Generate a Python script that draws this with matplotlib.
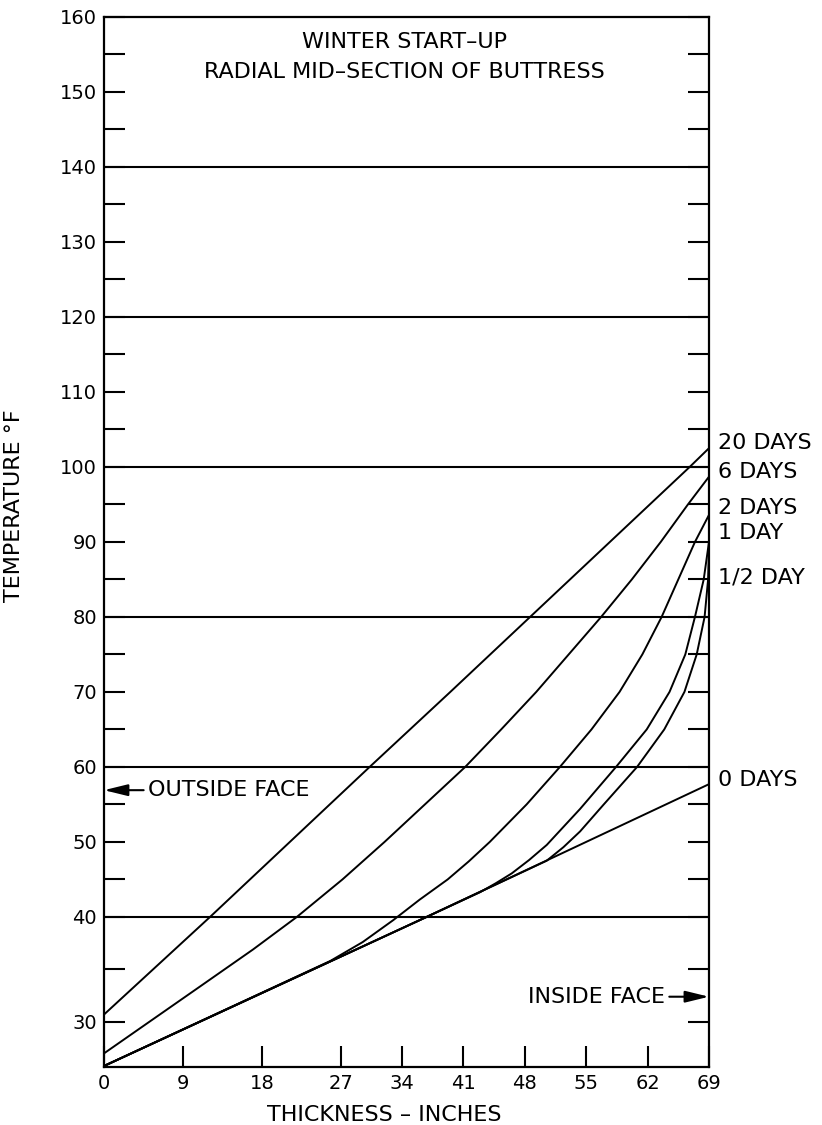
import matplotlib
matplotlib.use("Agg")
import matplotlib.pyplot as plt
import numpy as np
from matplotlib.ticker import FixedLocator

# ------------------------------------------------------------------ data
# thickness (in) / temperature (F)
x_0d = [0, 36.8, 69]
t_0d = [25.8, 40.0, 57.7]

x_half = [0, 36.8, 50.5, 52.4, 54.3, 57.0, 60.8, 63.9, 66.2, 67.6, 68.5, 68.9, 69]
t_half = [25.8, 40.0, 47.5, 49.3, 51.4, 55.0, 60.0, 65.0, 70.0, 75.0, 80.0, 85.0, 89.0]

x_1d = [0, 36.8, 42.9, 44.7, 46.5, 48.5, 50.5, 52.4, 54.3, 58.4, 61.9, 64.5, 66.3, 67.4, 68.4, 69]
t_1d = [25.8, 40.0, 43.3, 44.5, 45.8, 47.6, 49.6, 52.0, 54.4, 60.0, 65.0, 70.0, 75.0, 80.0, 85.0, 90.0]

x_2d = [0, 25.8, 29.5, 33.0, 36.0, 39.2, 41.6, 44.0, 48.2, 52.0, 55.6, 58.8, 61.4, 63.6, 65.5, 67.4, 69]
t_2d = [25.8, 35.8, 37.6, 39.7, 42.3, 45.0, 47.4, 50.0, 55.0, 60.0, 65.0, 70.0, 75.0, 80.0, 85.0, 90.0, 93.6]

x_6d = [0, 11.0, 17.0, 22.0, 27.2, 32.0, 36.6, 41.2, 45.3, 49.3, 53.0, 56.7, 60.2, 63.5, 66.6, 69]
t_6d = [27.0, 33.4, 36.9, 40.0, 45.0, 50.0, 55.0, 60.0, 65.0, 70.0, 75.0, 80.0, 85.0, 90.0, 95.0, 98.7]

x_20d = [0, 12.1, 21.2, 30.3, 39.5, 48.6, 57.7, 66.8, 69]
t_20d = [30.7, 40.0, 50.0, 60.0, 70.0, 80.0, 90.0, 100.0, 102.5]

curves = [(x_0d, t_0d), (x_half, t_half), (x_1d, t_1d),
          (x_2d, t_2d), (x_6d, t_6d), (x_20d, t_20d)]

curve_labels = ["0 DAYS", "1/2 DAY", "1 DAY", "2 DAYS", "6 DAYS", "20 DAYS"]
label_y = [58.3, 85.3, 91.2, 94.5, 99.3, 103.2]

x_ticks = [0, 9, 18, 27, 34, 41, 48, 55, 62, 69]
y_ticks = [30, 40, 50, 60, 70, 80, 90, 100, 110, 120, 130, 140, 150, 160]
y_minor = [35, 45, 55, 65, 75, 85, 95, 105, 115, 125, 135, 145, 155]
grid_y = [40, 60, 80, 100, 120, 140]

FS_NUM = 14
FS_TXT = 16


# scale is stretched below 40 F on the original sheet
def fwd(y):
    y = np.asarray(y, dtype=float)
    return np.where(y < 40, 40 + (y - 40) * 1.4, y)


def inv(y):
    y = np.asarray(y, dtype=float)
    return np.where(y < 40, 40 + (y - 40) / 1.4, y)


fig = plt.figure(figsize=(8.22, 11.25), dpi=100)
ax = fig.add_axes([0.1265, 0.0516, 0.736, 0.9333])
ax.set_yscale("function", functions=(fwd, inv))
ax.set_xlim(0, 69)
ax.set_ylim(25.71, 160)

for g in grid_y:
    ax.axhline(g, color="black", lw=1.5, zorder=1)

for xs, ts in curves:
    ax.plot(xs, ts, color="black", lw=1.4, solid_joinstyle="round", zorder=2)

for s in ax.spines.values():
    s.set_linewidth(1.6)

ax.xaxis.set_major_locator(FixedLocator(x_ticks))
ax.yaxis.set_major_locator(FixedLocator(y_ticks))
ax.yaxis.set_minor_locator(FixedLocator(y_minor))
ax.xaxis.set_minor_locator(FixedLocator([]))
ax.tick_params(axis="both", which="both", direction="in", length=15, width=1.5,
               labelsize=FS_NUM, pad=5)
ax.tick_params(axis="y", which="both", left=True, right=True, labelright=False)
ax.tick_params(axis="x", top=False)

ax.set_xlabel("THICKNESS \u2013 INCHES", fontsize=FS_TXT)
ax.xaxis.set_label_coords(0.464, -0.036)
ax.set_ylabel("TEMPERATURE \u00b0F", fontsize=FS_TXT)
ax.yaxis.set_label_coords(-0.132, 0.535)

ax.text(0.497, 0.976, "WINTER START\u2013UP", transform=ax.transAxes,
        ha="center", va="center", fontsize=FS_TXT)
ax.text(0.497, 0.948, "RADIAL MID\u2013SECTION OF BUTTRESS", transform=ax.transAxes,
        ha="center", va="center", fontsize=FS_TXT)

for lab, yy in zip(curve_labels, label_y):
    ax.text(70.0, yy, lab, ha="left", va="center", fontsize=FS_TXT, clip_on=False)

arrow = dict(arrowstyle="-|>,head_length=0.9,head_width=0.22", color="black",
             lw=1.5, shrinkA=1, shrinkB=0)
ax.annotate("OUTSIDE FACE", xy=(0, 56.9), xytext=(5.0, 56.9),
            ha="left", va="center", fontsize=FS_TXT, arrowprops=arrow)
ax.annotate("INSIDE FACE", xy=(69, 32.4), xytext=(64.0, 32.4),
            ha="right", va="center", fontsize=FS_TXT, arrowprops=arrow)

fig.savefig("out.png", dpi=100, facecolor="white")
